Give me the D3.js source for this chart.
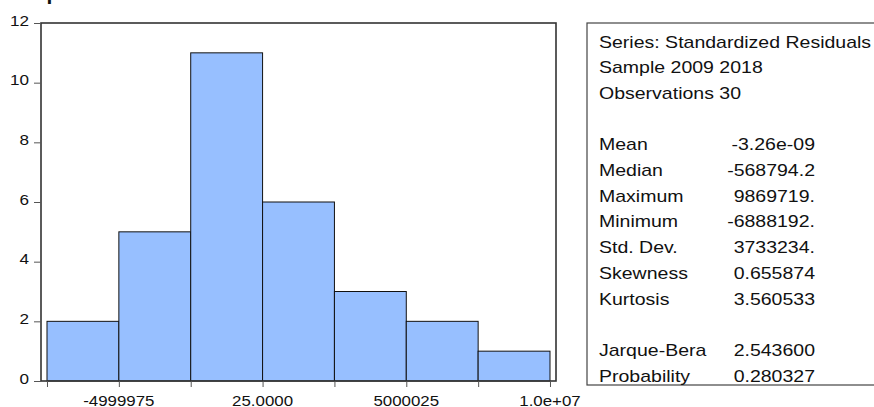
<!DOCTYPE html>
<html>
<head>
<meta charset="UTF-8">
<script src="https://cdnjs.cloudflare.com/ajax/libs/d3/7.8.5/d3.min.js"></script>
<style>
  body { margin: 0; background: #fff; overflow: hidden; }
  svg { display: block; font-family: "Liberation Sans", Arial, sans-serif; }
</style>
</head>
<body>
<div id="chart"></div>
<script>
// histogram of residuals
const binEdges = [-7499975, -4999975, -2499975, 25, 2500025, 5000025, 7500025, 10000025];
const counts = [2, 5, 11, 6, 3, 2, 1];
const yTicks = [0, 2, 4, 6, 8, 10, 12];
const xLabelValues = [-4999975, 25, 5000025, 10000025];
const xLabels = ["-4999975", "25.0000", "5000025", "1.0e+07"];

// stats panel
const headerLines = ["Series: Standardized Residuals", "Sample 2009 2018", "Observations 30"];
const statNames = ["Mean", "Median", "Maximum", "Minimum", "Std. Dev.", "Skewness", "Kurtosis"];
const statValues = ["-3.26e-09", "-568794.2", "9869719.", "-6888192.", "3733234.", "0.655874", "3.560533"];
const testNames = ["Jarque-Bera", "Probability"];
const testValues = ["2.543600", "0.280327"];

const W = 874, H = 407;
const SX = 1.17; // source image is stretched horizontally

const svg = d3.select("#chart").append("svg")
  .attr("width", W).attr("height", H);

const x = d3.scaleLinear().domain([-7708700, 10208800]).range([41, 556]);
const y = d3.scaleLinear().domain([0, 12]).range([381, 23]);

function stretchedText(g, px, py, str, anchor, size, weight, sx) {
  return g.append("text")
    .attr("transform", `translate(${px},${py}) scale(${sx || SX},1)`)
    .attr("text-anchor", anchor || "start")
    .style("font-size", (size || 14) + "px")
    .style("font-weight", weight || "normal")
    .attr("fill", "#111")
    .text(str);
}

// cut-off title at the very top
stretchedText(svg, 2, -0.5, "Sample Test", "start", 18, "bold");

// bars
const bins = counts.map((c, i) => ({ x0: binEdges[i], x1: binEdges[i + 1], n: c }));
svg.selectAll("rect.bar")
  .data(bins).enter().append("rect")
  .attr("class", "bar")
  .attr("x", d => x(d.x0))
  .attr("y", d => y(d.n))
  .attr("width", d => x(d.x1) - x(d.x0))
  .attr("height", d => y(0) - y(d.n))
  .attr("fill", "#97bfff")
  .attr("stroke", "#111")
  .attr("stroke-width", 1);

// frame
svg.append("rect")
  .attr("x", x.range()[0]).attr("y", y.range()[1])
  .attr("width", x.range()[1] - x.range()[0])
  .attr("height", y.range()[0] - y.range()[1])
  .attr("fill", "none")
  .attr("stroke", "#333")
  .attr("stroke-width", 1.6);

// y axis
const yAxis = svg.append("g")
  .attr("transform", `translate(${x.range()[0]},0)`)
  .call(d3.axisLeft(y).tickValues(yTicks).tickSize(7).tickPadding(0).tickFormat(d3.format("d")));
yAxis.select(".domain").remove();
yAxis.selectAll(".tick line").attr("stroke", "#555");
yAxis.selectAll(".tick text")
  .attr("x", null).attr("dy", null)
  .attr("transform", `translate(-12,2) scale(1.18,1)`)
  .attr("y", 0)
  .style("font-size", "14.5px")
  .style("font-family", "Liberation Sans, Arial, sans-serif")
  .attr("fill", "#111");

// x axis: ticks at every bin edge, labels only on some
const xAxis = svg.append("g")
  .attr("transform", `translate(0,${y.range()[0]})`)
  .call(d3.axisBottom(x).tickValues(binEdges).tickSize(6).tickFormat(""));
xAxis.select(".domain").remove();
xAxis.selectAll(".tick line").attr("stroke", "#555");

xLabelValues.forEach((v, i) => {
  stretchedText(svg, x(v), 405.5, xLabels[i], "middle", 14.3, "normal", 1.18);
});

// stats box
const box = svg.append("g");
box.append("rect")
  .attr("x", 587).attr("y", 23)
  .attr("width", 320).attr("height", 362)
  .attr("fill", "#fff")
  .attr("stroke", "#444")
  .attr("stroke-width", 1.2);

const lineY = i => 47.5 + i * 25.7;
const labelX = 599, valueX = 815, FS = 16.6, SX2 = 1.175;

headerLines.forEach((s, i) => stretchedText(box, labelX, lineY(i), s, "start", FS, "normal", SX2));
statNames.forEach((s, i) => {
  stretchedText(box, labelX, lineY(i + 4), s, "start", FS, "normal", SX2);
  stretchedText(box, valueX, lineY(i + 4), statValues[i], "end", FS, "normal", SX2);
});
testNames.forEach((s, i) => {
  stretchedText(box, labelX, lineY(i + 12), s, "start", FS, "normal", SX2);
  stretchedText(box, valueX, lineY(i + 12), testValues[i], "end", FS, "normal", SX2);
});
</script>
</body>
</html>
